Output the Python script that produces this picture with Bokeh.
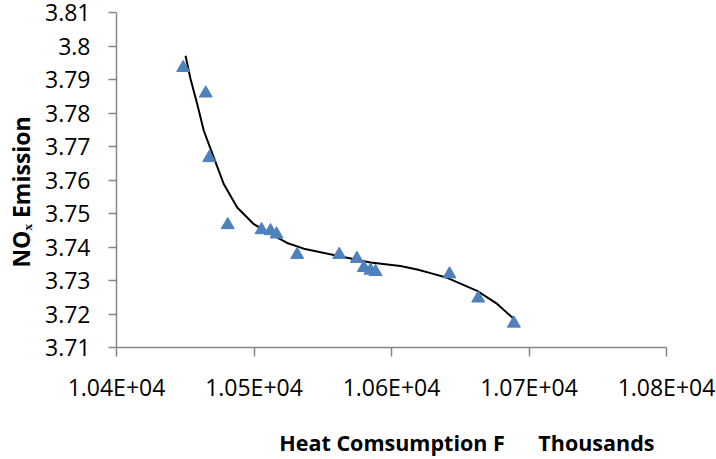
from bokeh.plotting import figure
from bokeh.models import Range1d, FixedTicker
from bokeh.embed import file_html
from bokeh.resources import INLINE

# ---- data ----
heat_x = [10448.5, 10464.9, 10467.4, 10480.9, 10505.5, 10512.0, 10516.4, 10531.4,
          10562.0, 10574.8, 10579.9, 10584.7, 10588.4, 10642.2, 10663.1, 10689.0]
nox_y = [3.7935, 3.7859, 3.7666, 3.7466, 3.7451, 3.7448, 3.7438, 3.7377,
         3.7377, 3.7365, 3.7338, 3.7330, 3.7326, 3.7319, 3.7247, 3.7172]

trend_x = [10450.2, 10453.8, 10458.7, 10463.5, 10470.8, 10478.0, 10487.8, 10499.9,
           10512.0, 10524.1, 10536.2, 10560.5, 10584.7, 10606.5, 10618.7, 10628.4,
           10640.5, 10662.3, 10676.9, 10689.0]
trend_y = [3.7971, 3.7902, 3.7827, 3.7747, 3.7667, 3.7588, 3.7518, 3.7468,
           3.7439, 3.7412, 3.7395, 3.7374, 3.7354, 3.7343, 3.7333, 3.7322,
           3.7308, 3.7269, 3.7230, 3.7185]

x_ticks = [10400, 10500, 10600, 10700, 10800]
x_tick_labels = ["1.04E+04", "1.05E+04", "1.06E+04", "1.07E+04", "1.08E+04"]
y_ticks = [3.71, 3.72, 3.73, 3.74, 3.75, 3.76, 3.77, 3.78, 3.79, 3.80, 3.81]
y_tick_labels = ["3.71", "3.72", "3.73", "3.74", "3.75", "3.76", "3.77", "3.78", "3.79", "3.8", "3.81"]

NBSP = "\u00a0"
x_title = "Heat Comsumption F" + NBSP * 6 + "Thousands"
y_title = "NO\u2093 Emission"

FONT = "Open Sans"
AXIS_COLOR = "#868686"

X0, X1, Y0, Y1 = 10400, 10800, 3.71, 3.81
FL, FR, FT, FB = 116, 666, 12, 347  # frame edges in page pixels

p = figure(width=716, height=459, output_backend="svg", toolbar_location=None,
           x_range=Range1d(X0, X1), y_range=Range1d(Y0, Y1),
           min_border_left=FL, min_border_right=716 - FR, min_border_top=FT,
           min_border_bottom=459 - FB)
p.outline_line_color = None
p.xgrid.grid_line_color = None
p.ygrid.grid_line_color = None
p.background_fill_color = "white"
p.border_fill_color = "white"

for ax, ticks, labels, tick_out, standoff in (
        (p.xaxis[0], x_ticks, x_tick_labels, 9, 14),
        (p.yaxis[0], y_ticks, y_tick_labels, 8, 18)):
    ax.ticker = FixedTicker(ticks=ticks, minor_ticks=[])
    ax.major_label_overrides = {t: l for t, l in zip(ticks, labels)}
    ax.axis_line_color = AXIS_COLOR
    ax.axis_line_width = 1.5
    ax.major_tick_line_color = AXIS_COLOR
    ax.major_tick_line_width = 1.5
    ax.major_tick_out = tick_out
    ax.major_tick_in = 0
    ax.minor_tick_out = 0
    ax.minor_tick_in = 0
    ax.major_label_standoff = standoff
    ax.major_label_text_font = FONT
    ax.major_label_text_font_size = "23px"
    ax.major_label_text_color = "black"
    ax.axis_label_text_font = FONT
    ax.axis_label_text_font_style = "bold"
    ax.axis_label_text_color = "black"

# axis titles (non-breaking spaces shift the centred label to the reference position)
p.xaxis[0].axis_label = NBSP * 27 + x_title
p.xaxis[0].axis_label_text_font_size = "21.5px"
p.xaxis[0].axis_label_standoff = 22
p.yaxis[0].axis_label = y_title + NBSP * 4
p.yaxis[0].axis_label_text_font_size = "23px"
p.yaxis[0].axis_label_standoff = 5

# trendline
p.line(trend_x, trend_y, line_color="black", line_width=2)
# data points
p.scatter(heat_x, nox_y, marker="triangle", size=13, fill_color="#4F81BD", line_color="#4F81BD")

open("out.html", "w").write(file_html(p, INLINE))
